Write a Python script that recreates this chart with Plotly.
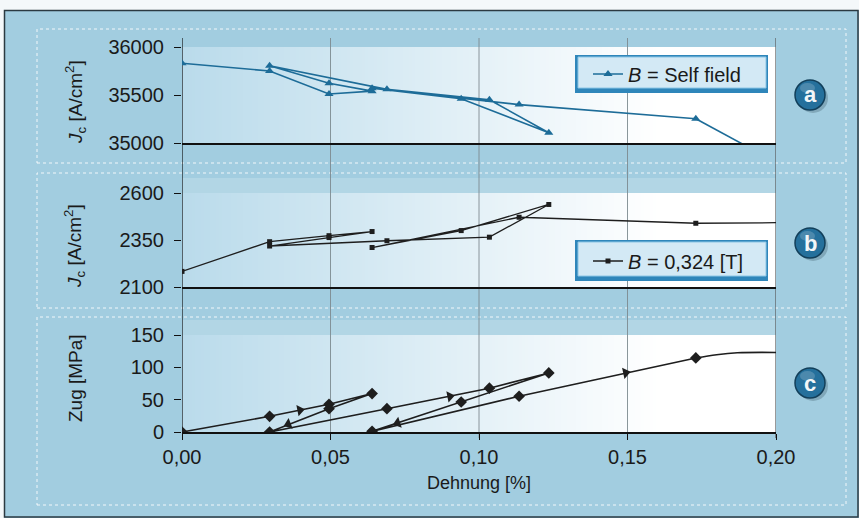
import base64
import struct
import zlib
import plotly.graph_objects as go

# ---------------- data ----------------
strain = [0, 0.0295, 0.0495, 0.064, 0.0495, 0.0295, 0.069, 0.1035, 0.1235, 0.094, 0.064, 0.1135, 0.173]
jc_self = [35830, 35750, 35510, 35540, 35622, 35805, 35559, 35451, 35107, 35461, 35570, 35400, 35253]
jc_self_tail_x = [0.173, 0.20]
jc_self_tail_y = [35253, 34800]

jc_324 = [2183, 2341, 2373, 2395, 2363, 2318, 2346, 2365, 2539, 2400, 2310, 2471, 2439]
jc_324_tail_x = [0.173, 0.20]
jc_324_tail_y = [2439, 2442]

zug = [0, 24.3, 42.9, 59.4, 36, 0, 36, 67.7, 91.3, 46.4, 1, 55.3, 114.5]
zug_tail_x = [0.173, 0.180, 0.187, 0.20]
zug_tail_y = [114.5, 119.5, 122.5, 123]

arrow_x = [0.0397, 0.0358, 0.0902, 0.0726, 0.1494]
arrow_y = [33.8, 12, 55, 14, 91.5]
arrow_dir = ["triangle-right", "triangle-left", "triangle-right", "triangle-left", "triangle-right"]
arrow_angle = [-11, -21, -11, -18, -12]

x_ticks = [0, 0.05, 0.10, 0.15, 0.20]
ticks_a = [35000, 35500, 36000]
ticks_b = [2100, 2350, 2600]
ticks_c = [0, 50, 100, 150]

W, H = 859, 518


def px(x):
    return x / W


def py(y):
    return 1 - y / H


def gradient_png(c0, c1, width=200, white_from=0.75):
    row = bytearray([0])
    for i in range(width):
        t = min(1.0, i / (width * white_from))
        for a, b in zip(c0, c1):
            row.append(int(round(a + (b - a) * t)))
    raw = bytes(row) + bytes(row)

    def chunk(tag, data):
        return (struct.pack(">I", len(data)) + tag + data +
                struct.pack(">I", zlib.crc32(tag + data) & 0xFFFFFFFF))

    png = (b"\x89PNG\r\n\x1a\n" +
           chunk(b"IHDR", struct.pack(">IIBBBBB", width, 2, 8, 2, 0, 0, 0)) +
           chunk(b"IDAT", zlib.compress(raw)) + chunk(b"IEND", b""))
    return "data:image/png;base64," + base64.b64encode(png).decode()


FONT = "Liberation Sans, Arial, sans-serif"
BLUE_LINE = "#1d6c98"
DARK = "#1e1e1e"

XL, XR = 182, 776
panels = {
    "a": (47, 143),
    "b": (193, 287),
    "c": (335, 432),
}

fig = go.Figure()

fig.add_trace(go.Scatter(x=strain, y=jc_self, mode="lines+markers", xaxis="x", yaxis="y",
                         line=dict(color=BLUE_LINE, width=1.6),
                         marker=dict(symbol="triangle-up", size=8, color=BLUE_LINE),
                         name="<i>B</i> = Self field", legend="legend", showlegend=True))
fig.add_trace(go.Scatter(x=jc_self_tail_x, y=jc_self_tail_y, mode="lines", xaxis="x", yaxis="y",
                         line=dict(color=BLUE_LINE, width=1.6), showlegend=False, hoverinfo="skip"))

fig.add_trace(go.Scatter(x=strain, y=jc_324, mode="lines+markers", xaxis="x2", yaxis="y2",
                         line=dict(color=DARK, width=1.3),
                         marker=dict(symbol="square", size=5, color=DARK),
                         name="<i>B</i> = 0,324 [T]", legend="legend2", showlegend=True))
fig.add_trace(go.Scatter(x=jc_324_tail_x, y=jc_324_tail_y, mode="lines", xaxis="x2", yaxis="y2",
                         line=dict(color=DARK, width=1.3), showlegend=False, hoverinfo="skip"))

fig.add_trace(go.Scatter(x=strain, y=zug, mode="lines+markers", xaxis="x3", yaxis="y3",
                         line=dict(color=DARK, width=1.6),
                         marker=dict(symbol="diamond", size=9, color=DARK),
                         showlegend=False))
fig.add_trace(go.Scatter(x=zug_tail_x, y=zug_tail_y, mode="lines", xaxis="x3", yaxis="y3",
                         line=dict(color=DARK, width=1.6, shape="spline"),
                         showlegend=False, hoverinfo="skip"))
fig.add_trace(go.Scatter(x=arrow_x, y=arrow_y, mode="markers", xaxis="x3", yaxis="y3",
                         marker=dict(symbol=arrow_dir, angle=arrow_angle, size=10, color=DARK),
                         showlegend=False))

xdom = [px(XL), px(XR)]
common_x = dict(range=[0, 0.20], domain=xdom, showgrid=False, zeroline=False,
                showline=True, linecolor="#111", linewidth=1.5, fixedrange=True, automargin=False)
tickfont = dict(family=FONT, size=20, color="#1a1a1a")

layout = dict(
    template="none",
    width=W, height=H,
    margin=dict(l=0, r=0, t=0, b=0, pad=0, autoexpand=False),
    paper_bgcolor="#a2cde0",
    plot_bgcolor="rgba(0,0,0,0)",
    separators=",.",
    font=dict(family=FONT, color="#1a1a1a"),
    xaxis=dict(common_x, anchor="y", showticklabels=False, ticks=""),
    xaxis2=dict(common_x, anchor="y2", showticklabels=False, ticks=""),
    xaxis3=dict(common_x, anchor="y3", tickvals=x_ticks, tickformat=".2f", ticks="outside",
                ticklen=6, tickcolor="#111", tickfont=tickfont),
)

anchors = {"a": "x", "b": "x2", "c": "x3"}
for key, (name, rng, tv) in {"yaxis": ("a", [35000, 36000], ticks_a),
                             "yaxis2": ("b", [2100, 2600], ticks_b),
                             "yaxis3": ("c", [0, 150], ticks_c)}.items():
    top, bot = panels[name]
    layout[key] = dict(range=rng, domain=[py(bot), py(top)], tickvals=tv, tickformat="d",
                       ticks="outside", ticklen=7, tickcolor="#111", showgrid=False,
                       zeroline=False, showline=False, tickfont=tickfont,
                       ticklabelstandoff=6, anchor=anchors[name], automargin=False,
                       fixedrange=True)

legfont = dict(family=FONT, size=20, color="#1a1a1a")
layout["legend"] = dict(x=px(588), y=py(74), xanchor="left", yanchor="middle",
                        bgcolor="rgba(0,0,0,0)", borderwidth=0, font=legfont, itemwidth=30)
layout["legend2"] = dict(x=px(588), y=py(261), xanchor="left", yanchor="middle",
                         bgcolor="rgba(0,0,0,0)", borderwidth=0, font=legfont, itemwidth=30)

fig.update_layout(**layout)

shapes = []
shapes.append(dict(type="rect", xref="paper", yref="paper", x0=0, x1=1, y0=py(10), y1=1,
                   fillcolor="#f4f8fa", line=dict(width=0), layer="below"))
shapes.append(dict(type="rect", xref="paper", yref="paper", x0=0, x1=px(4), y0=0, y1=1,
                   fillcolor="#f4f8fa", line=dict(width=0), layer="below"))
shapes.append(dict(type="rect", xref="paper", yref="paper", x0=px(4.5), x1=px(858), y0=py(517), y1=py(10.5),
                   line=dict(color="#2b3a42", width=1.5), layer="below"))

for (t, b) in [(29, 163), (173, 308), (317, 505)]:
    shapes.append(dict(type="rect", xref="paper", yref="paper", x0=px(37), x1=px(846), y0=py(b), y1=py(t),
                       line=dict(color="rgba(255,255,255,0.85)", width=1, dash="dot"), layer="below"))

# lighter bands above the plot areas of panels b and c
for (t, b) in [(178, 193), (320, 335)]:
    shapes.append(dict(type="rect", xref="paper", yref="paper", x0=px(XL), x1=px(XR), y0=py(b), y1=py(t),
                       fillcolor="rgba(255,255,255,0.18)", line=dict(width=0), layer="below"))

for v in x_ticks:
    col = "#111" if v == 0 else ("#555" if v == 0.20 else "#7d8a90")
    shapes.append(dict(type="line", xref="x3", yref="paper", x0=v, x1=v, y0=py(438), y1=py(38),
                       line=dict(color=col, width=1.2 if v in (0, 0.20) else 0.9), layer="below"))

for (t, b) in [(55, 93), (240, 281)]:
    shapes.append(dict(type="rect", xref="paper", yref="paper", x0=px(575), x1=px(768), y0=py(b), y1=py(t),
                       fillcolor="#2f86ba", line=dict(width=0), layer="below"))
    shapes.append(dict(type="rect", xref="paper", yref="paper", x0=px(578), x1=px(766), y0=py(b - 5), y1=py(t + 2),
                       fillcolor="#d3e9f5", line=dict(color="#8cc6e6", width=1), layer="below"))

for cy in [95, 243, 383]:
    shapes.append(dict(type="circle", xref="paper", yref="paper", x0=px(798), x1=px(828), y0=py(cy + 18), y1=py(cy - 12),
                       fillcolor="rgba(70,100,115,0.35)", line=dict(width=0)))
    shapes.append(dict(type="circle", xref="paper", yref="paper", x0=px(795), x1=px(825), y0=py(cy + 15), y1=py(cy - 15),
                       fillcolor="#25709c", line=dict(color="#123f5a", width=1.5)))
    shapes.append(dict(type="circle", xref="paper", yref="paper", x0=px(800), x1=px(815), y0=py(cy - 2), y1=py(cy - 12),
                       fillcolor="rgba(255,255,255,0.18)", line=dict(width=0)))

annotations = []
for cy, letter in zip([95, 243, 383], ["a", "b", "c"]):
    annotations.append(dict(xref="paper", yref="paper", x=px(810), y=py(cy), text=f"<b>{letter}</b>",
                            showarrow=False, font=dict(family=FONT, size=22, color="#f2f6f8"),
                            xanchor="center", yanchor="middle"))

ytitle_font = dict(family=FONT, size=19, color="#1a1a1a")
annotations.append(dict(xref="paper", yref="paper", x=px(75), y=py(102),
                        text="<i>J</i><sub>c</sub> [A/cm<sup>2</sup>]", textangle=-90,
                        showarrow=False, font=ytitle_font, xanchor="center", yanchor="middle"))
annotations.append(dict(xref="paper", yref="paper", x=px(75), y=py(246),
                        text="<i>J</i><sub>c</sub> [A/cm<sup>2</sup>]", textangle=-90,
                        showarrow=False, font=ytitle_font, xanchor="center", yanchor="middle"))
annotations.append(dict(xref="paper", yref="paper", x=px(75), y=py(378),
                        text="Zug [MPa]", textangle=-90,
                        showarrow=False, font=ytitle_font, xanchor="center", yanchor="middle"))
annotations.append(dict(xref="paper", yref="paper", x=px(479), y=py(483),
                        text="Dehnung [%]", showarrow=False,
                        font=dict(family=FONT, size=18, color="#1a1a1a"),
                        xanchor="center", yanchor="middle"))

grad = gradient_png((186, 219, 235), (255, 255, 255), white_from=0.8)
images = []
for name, (t, b) in panels.items():
    images.append(dict(source=grad, xref="paper", yref="paper", x=px(XL), y=py(t),
                       sizex=px(XR) - px(XL), sizey=(b - t) / H, sizing="stretch",
                       xanchor="left", yanchor="top", layer="below"))

fig.update_layout(shapes=shapes, annotations=annotations, images=images)
fig.write_html("out.html", config={"displayModeBar": False},
               post_script="document.body.style.margin='0';document.body.style.overflow='hidden';")
